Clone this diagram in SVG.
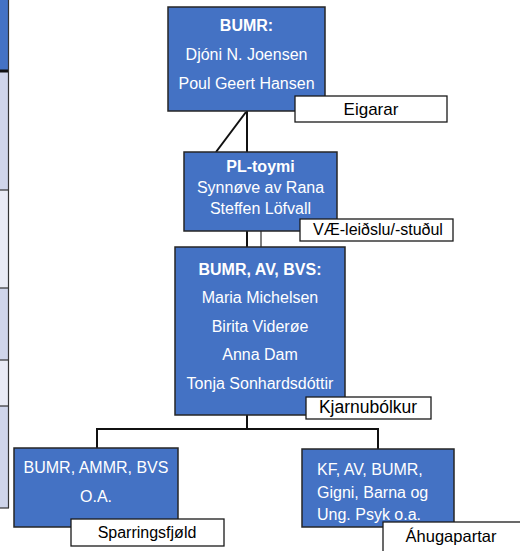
<svg xmlns="http://www.w3.org/2000/svg" width="520" height="551" viewBox="0 0 520 551">
<style>
.box{fill:#4472c4;stroke:#262626;stroke-width:1.5}
.lbl{fill:#ffffff;stroke:#1a1a1a;stroke-width:1.3}
.wt{font-family:"Liberation Sans",Arial,sans-serif;font-size:16px;fill:#ffffff;text-anchor:middle}
.wl{font-family:"Liberation Sans",Arial,sans-serif;font-size:16px;fill:#ffffff}
.b{font-weight:bold}
.bt{font-family:"Liberation Sans",Arial,sans-serif;font-size:16.5px;fill:#000000;text-anchor:middle}
.con{stroke:#111111;stroke-width:2;fill:none}
</style>
<rect width="520" height="551" fill="#ffffff"/>
<g id="side-table">
<rect x="-2" y="0" width="10" height="71" fill="#4472c4"/>
<rect x="-2" y="72" width="10" height="118" fill="#cfd5ea"/>
<rect x="-2" y="190" width="10" height="98" fill="#e9ebf5"/>
<rect x="-2" y="288" width="10" height="72" fill="#cfd5ea"/>
<rect x="-2" y="360" width="10" height="46" fill="#e9ebf5"/>
<rect x="-2" y="406" width="10" height="102" fill="#cfd5ea"/>
<line x1="-2" y1="71" x2="9" y2="71" stroke="#111" stroke-width="3"/>
<g stroke="#333" stroke-width="1.2">
<line x1="-2" y1="190" x2="9" y2="190"/>
<line x1="-2" y1="288" x2="9" y2="288"/>
<line x1="-2" y1="360" x2="9" y2="360"/>
<line x1="-2" y1="406" x2="9" y2="406"/>
<line x1="-2" y1="508" x2="9" y2="508"/>
<line x1="8.5" y1="0" x2="8.5" y2="508"/>
</g>
</g>
<g id="connectors">
<line class="con" x1="247" y1="111" x2="247" y2="152"/>
<line class="con" x1="246" y1="112" x2="216" y2="152" stroke-width="1.5"/>
<line class="con" x1="247" y1="231" x2="247" y2="247"/>
<line x1="261" y1="231" x2="261" y2="247" stroke="#555" stroke-width="1.5"/>
<polyline class="con" points="247,415 247,429" />
<polyline class="con" points="97,448 97,429 378,429 378,449" stroke-width="1.5"/>
</g>
<g id="node-bumr">
<rect class="box" x="168" y="7" width="157" height="104"/>
<text class="wt b" x="246.5" y="31">BUMR:</text>
<text class="wt" x="246.5" y="60">Djóni N. Joensen</text>
<text class="wt" x="246.5" y="89">Poul Geert Hansen</text>
<rect class="lbl" x="295" y="96" width="152" height="26"/>
<text class="bt" x="371" y="115" style="font-size:17px">Eigarar</text>
</g>
<g id="node-pl">
<rect class="box" x="184" y="152" width="153" height="79"/>
<text class="wt b" x="260.5" y="172">PL-toymi</text>
<text class="wt" x="260.5" y="193">Synnøve av Rana</text>
<text class="wt" x="260.5" y="214">Steffen Löfvall</text>
<rect class="lbl" x="300" y="219" width="153" height="22"/>
<text class="bt" x="378" y="235" style="font-size:16px">VÆ-leiðslu/-stuðul</text>
</g>
<g id="node-core">
<rect class="box" x="175" y="247" width="170" height="168"/>
<text class="wt b" x="260" y="275">BUMR, AV, BVS:</text>
<text class="wt" x="260" y="303">Maria Michelsen</text>
<text class="wt" x="260" y="332">Birita Viderøe</text>
<text class="wt" x="260" y="360">Anna Dam</text>
<text class="wt" x="260" y="389">Tonja Sonhardsdóttir</text>
<rect class="lbl" x="306" y="397" width="125" height="22"/>
<text class="bt" x="368" y="413" style="font-size:17.5px">Kjarnubólkur</text>
</g>
<g id="node-sparring">
<rect class="box" x="14" y="448" width="164" height="79"/>
<text class="wt" x="96" y="473">BUMR, AMMR, BVS</text>
<text class="wt" x="96" y="502">O.A.</text>
<rect class="lbl" x="71" y="519" width="153" height="27"/>
<text class="bt" x="147" y="538" style="font-size:16px">Sparringsfjøld</text>
</g>
<g id="node-ahuga">
<rect class="box" x="302" y="449" width="152" height="78"/>
<text class="wl" x="317" y="475">KF, AV, BUMR,</text>
<text class="wl" x="317" y="498">Gigni, Barna og</text>
<text class="wl" x="317" y="520">Ung. Psyk o.a.</text>
<rect class="lbl" x="383" y="522" width="140" height="40"/>
<text class="bt" x="451" y="542">Áhugapartar</text>
</g>
</svg>
